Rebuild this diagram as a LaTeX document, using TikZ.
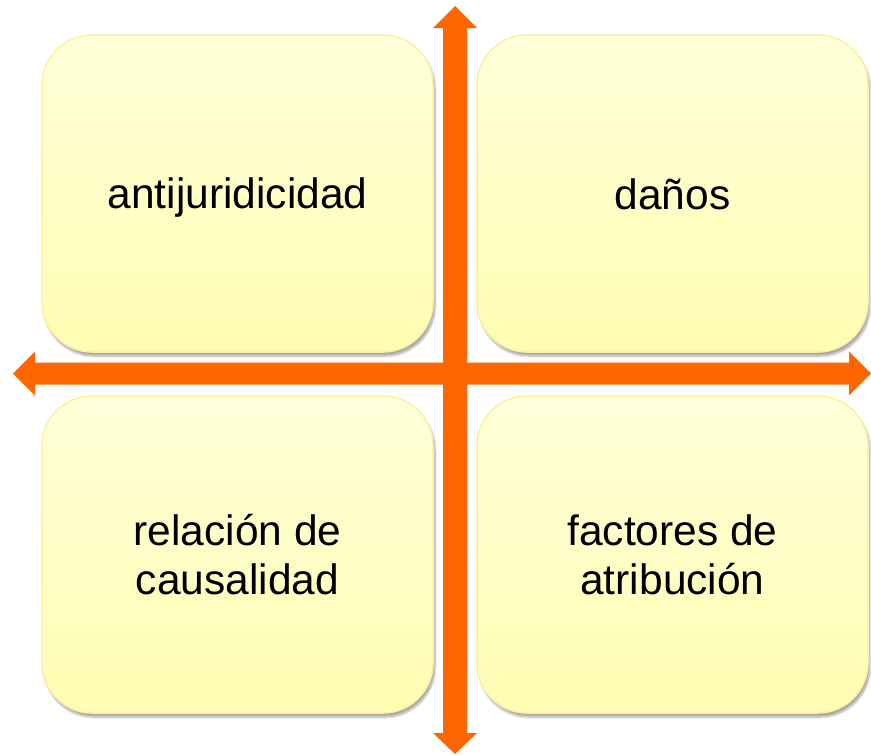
\documentclass[tikz,border=0pt]{standalone}
\usepackage{fontspec}
\setmainfont{Liberation Sans}
\usetikzlibrary{shadows.blur}
\definecolor{arr}{HTML}{FF6600}
\definecolor{boxtop}{HTML}{FFFFDA}
\definecolor{boxbot}{HTML}{FFFDB2}
\definecolor{boxline}{HTML}{FFEFA0}
\begin{document}
\begin{tikzpicture}[x=1pt,y=-1pt,
  box/.style={draw=boxline, line width=1.5pt, rounded corners=50pt,
    top color=boxtop, bottom color=boxbot,
    minimum width=391pt, minimum height=317pt, align=center,
    font=\fontsize{42.5}{49}\selectfont, text=black,
    blur shadow={shadow xshift=2pt, shadow yshift=-4pt, shadow blur steps=8, shadow opacity=35}},
  arrow/.style={fill=arr}]
\useasboundingbox (0,0) rectangle (871,755);
\node[box] (tl) at (237.5,193.5) {\raisebox{-4pt}[\height][\depth]{antijuridicidad}};
\node[box] (tr) at (672.5,193.5) {\raisebox{-1pt}[\height][\depth]{daños}};
\node[box] (bl) at (237.5,554.5) {relación de\\causalidad};
\node[box] (br) at (672.5,554.5) {factores de\\atribución};
\fill[arrow] (13,373.5) -- (35,351.5) -- (35,362.5) -- (849,362.5) -- (849,351.5) -- (871,373.5) -- (849,395.5) -- (849,384.5) -- (35,384.5) -- (35,395.5) -- cycle;
\fill[arrow] (455,6) -- (477,28) -- (467,28) -- (467,733) -- (477,733) -- (455,754) -- (433,733) -- (443,733) -- (443,28) -- (433,28) -- cycle;
\end{tikzpicture}
\end{document}
